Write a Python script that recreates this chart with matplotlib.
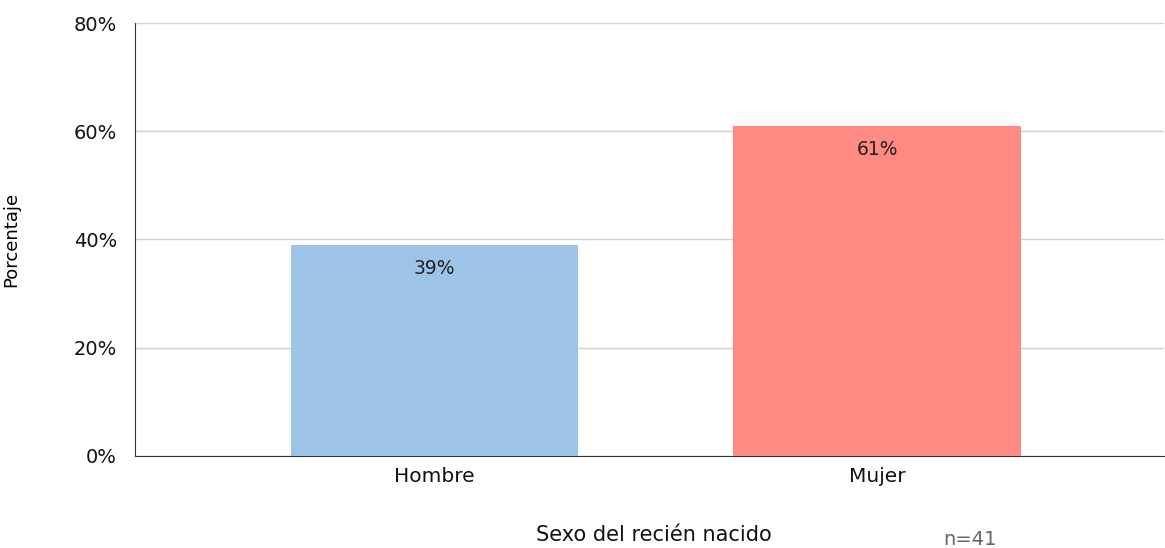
import matplotlib.pyplot as plt
from matplotlib.ticker import PercentFormatter

plt.rcParams["font.family"] = ["DejaVu Sans"]

categories = ["Hombre", "Mujer"]
values = [39, 61]
bar_colors = ["#9DC3E6", "#FF8A84"]
y_ticks = [0, 20, 40, 60, 80]

fig = plt.figure(figsize=(11.65, 5.48), dpi=100)
ax = fig.add_axes([0.1159, 0.168, 0.883, 0.79])

x = range(len(categories))
ax.bar(x, values, width=0.65, color=bar_colors, zorder=3)

for xi, v in zip(x, values):
    ax.annotate(f"{v}%", (xi, v), xytext=(0, -10), textcoords="offset points",
                ha="center", va="top", fontsize=13.5, color="#222222", zorder=4)

ax.set_xlim(-0.677, 1.648)
ax.set_ylim(0, 80)
ax.set_yticks(y_ticks)
ax.yaxis.set_major_formatter(PercentFormatter(decimals=0))
ax.set_xticks(list(x))
ax.set_xticklabels(categories)
ax.tick_params(axis="both", length=0, labelsize=14, colors="#111111")
ax.tick_params(axis="x", pad=8, labelsize=14.5)
ax.tick_params(axis="y", pad=13)

ax.grid(axis="y", color="#D0D0D0", linewidth=1, zorder=0)
for side in ["top", "right"]:
    ax.spines[side].set_visible(False)
ax.spines["left"].set_color("#333333")
ax.spines["bottom"].set_color("#333333")

ax.set_ylabel("Porcentaje", fontsize=13)
ax.yaxis.set_label_coords(-0.112, 0.5)
fig.text(0.561, 0.024, "Sexo del recién nacido", ha="center", va="center",
         fontsize=15, color="#111111")
fig.text(0.833, 0.0146, "n=41", ha="center", va="center", fontsize=14,
         color="#666666")

fig.savefig("out.png", dpi=100)
